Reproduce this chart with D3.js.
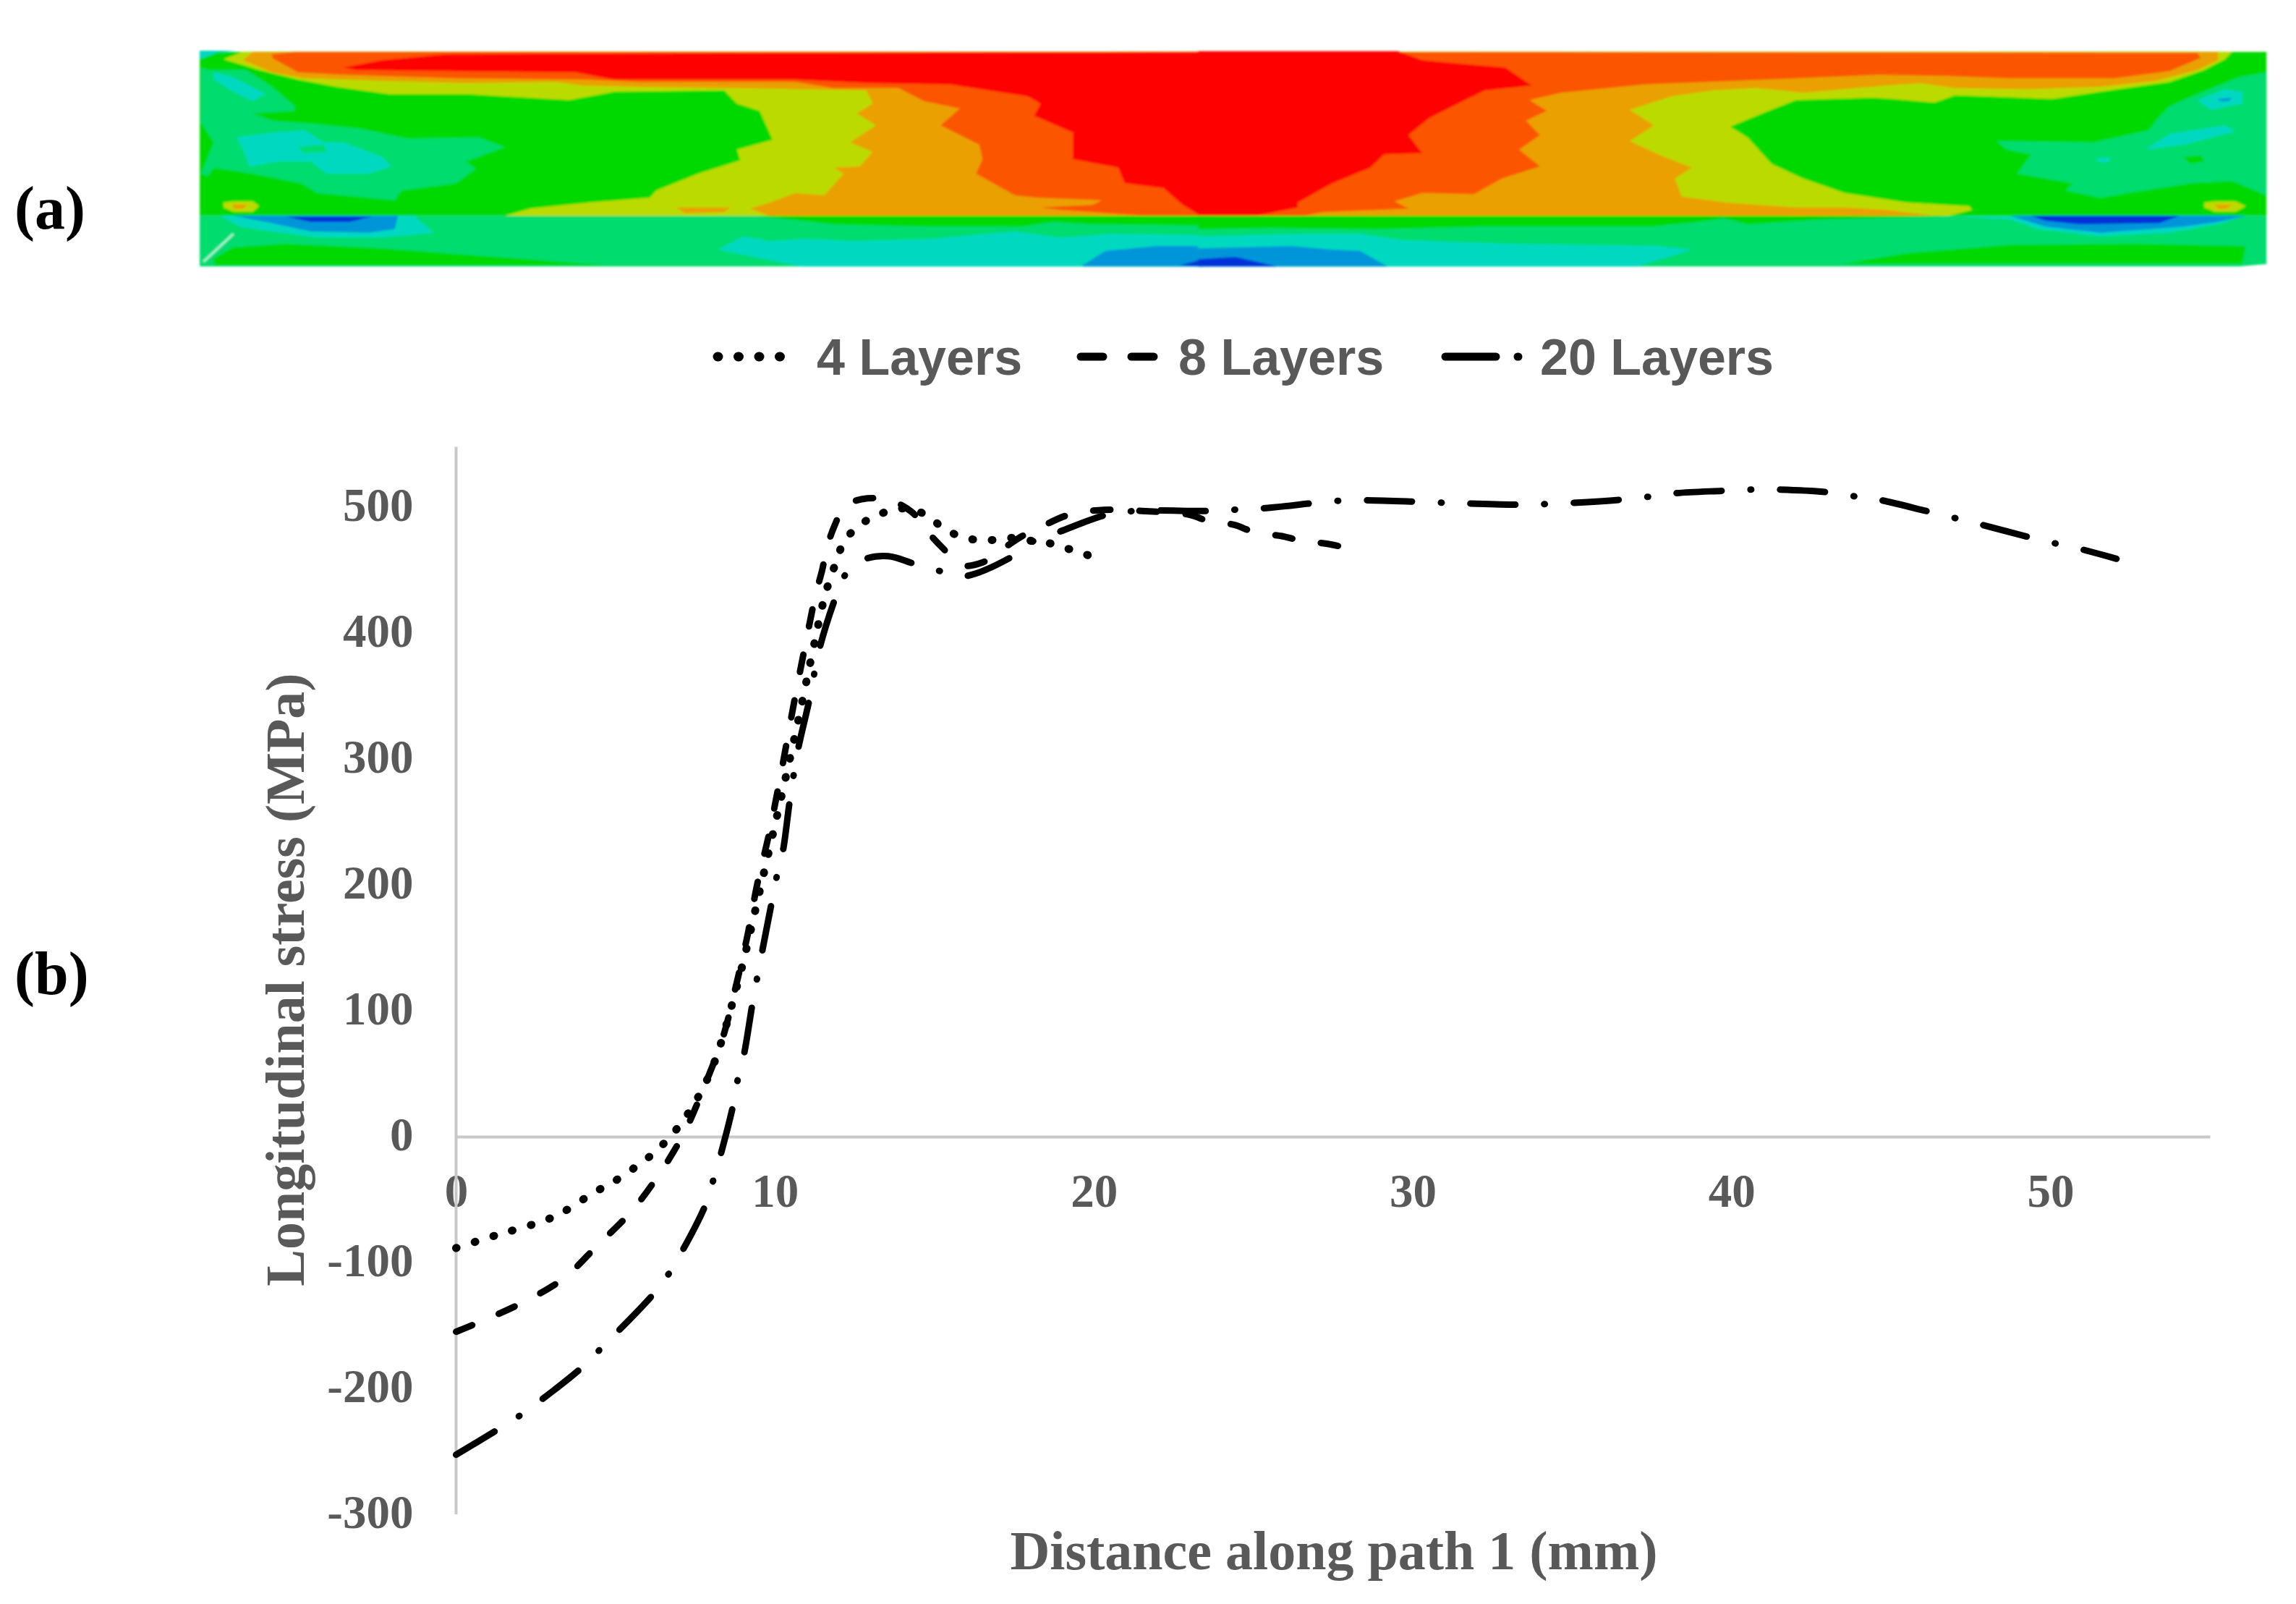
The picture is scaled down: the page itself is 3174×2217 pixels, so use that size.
<!DOCTYPE html>
<html>
<head>
<meta charset="utf-8">
<script src="https://cdn.jsdelivr.net/npm/d3@7"></script>
<style>
  body { margin: 0; background: #fff; }
  text { font-family: "Liberation Serif", serif; font-weight: bold; fill: #595959; }
</style>
</head>
<body>
<div id="container"></div>
<script>
// ---- line chart values (mm, MPa)
const xTicks = [0, 10, 20, 30, 40, 50];
const yTicks = [500, 400, 300, 200, 100, 0, -100, -200, -300];

const distance4 = [0, 1.08, 1.67, 2.79, 3.35, 4.35, 4.87, 5.85, 6.3, 7.1, 7.97, 8.84, 9.53, 10.2, 10.7, 11.18, 11.58, 11.94, 12.17, 12.58, 13.05, 13.6, 14.1, 14.73, 15.2, 15.73, 16.32, 16.9, 17.5, 18.1, 18.67, 19.25, 19.8, 20];
const stress4 = [-88.5, -79.7, -75.3, -66.5, -60, -44, -37, -20, -10.8, 12, 50.8, 122.6, 196, 270, 327, 385, 431, 458, 473, 484, 492, 497, 499, 494, 485, 477.5, 474, 474, 475.6, 473, 471, 466.5, 462, 460];

const distance8 = [0, 0.67, 2.03, 3.35, 4.45, 5.51, 6.42, 7.17, 7.77, 8.38, 8.76, 9.14, 9.44, 9.81, 10.2, 10.6, 10.97, 11.28, 11.48, 11.63, 11.88, 12.2, 12.9, 13.66, 14.3, 14.77, 15.28, 15.84, 16.5, 17.15, 17.75, 18.4, 19.1, 19.9, 20.6, 21.5, 22.98, 23.6, 24.4, 25.05, 25.9, 26.56, 27.3, 28.04];
const stress8 = [-155, -148, -132.5, -113, -86, -59, -28, 4, 39, 80, 118, 160, 200, 240, 290, 345, 393, 431, 450, 468, 486, 501, 507, 505, 496, 481, 467, 454, 456, 467, 477, 485, 493, 497, 498, 497, 494, 489, 486, 480, 477, 473, 471, 467];

const distance20 = [0, 1.35, 2.03, 3.92, 4.53, 6.19, 6.68, 7.81, 8.06, 8.3, 8.68, 8.83, 9.03, 9.29, 9.44, 9.59, 9.89, 10.05, 10.25, 10.46, 10.72, 11.07, 11.4, 11.88, 12.17, 12.75, 13.55, 14.37, 15.12, 15.9, 17.46, 18.1, 18.87, 20.4, 21.3, 23.6, 24.4, 25.26, 26.8, 27.6, 28.4, 30, 31, 31.66, 33.3, 34, 34.9, 36.55, 37.3, 38.2, 39.7, 40.6, 41.4, 42.96, 43.75, 44.6, 46.1, 46.9, 47.7, 49.25, 50.05, 50.9, 52.07];
const stress20 = [-252.7, -232, -221, -184, -168.6, -125, -108.5, -55, -35, -14, 24, 45, 65.5, 105, 126, 146, 185, 206, 227, 266, 307, 346, 388, 427, 445, 458, 461, 455, 449.6, 445, 461, 473, 480, 494, 497, 497, 498, 499, 503, 505, 505.5, 504.5, 503.5, 503, 502, 502.3, 503.3, 506, 508, 511, 513, 514, 514, 512, 509, 506, 497, 492, 487, 476.7, 471.8, 467, 459];

const legendLabels = ["4 Layers", "8 Layers", "20 Layers"];

// ---- contour field of panel (a), band outlines in two map sheets (left / right half)
const red = "#ff0000", orangeRed = "#fb5500", orange = "#eaa000", yellowGreen = "#bbdb00",
      green = "#00d900", seaGreen = "#00dc6e", cyan = "#00d9c0", lightBlue = "#0095d9", blue = "#0030d9";

const lUpperBase = [[18,65],[1572,65],[1572,745],[18,745]];
const lLowerBase = [[18,745],[1572,745],[1572,955],[18,955]];
const lCorner = [[18,60],[75,60],[45,68],[22,92],[18,92]];
const lSea = [[30,140],[90,140],[130,210],[165,290],[165,310],[100,320],[130,350],[200,365],[270,385],[340,425],[450,420],[490,460],[430,520],[445,550],[415,610],[330,640],[320,680],[200,650],[175,610],[100,570],[40,545],[30,580],[20,570],[40,440],[20,360],[20,130]];
const lCyanA = [[40,150],[70,170],[120,240],[100,270],[70,230],[40,180]];
const lCyanB = [[75,420],[130,400],[180,390],[210,440],[240,440],[300,500],[315,540],[280,570],[215,570],[190,520],[140,520],[95,540],[85,470]];
const lSeaHole = [[170,460],[210,450],[215,480],[180,485]];
const lYellow = [[55,95],[85,65],[1572,65],[1572,745],[490,745],[530,715],[620,690],[715,670],[725,640],[790,570],[855,515],[850,470],[905,430],[895,370],[885,310],[850,280],[830,225],[660,230],[590,265],[430,240],[310,240],[230,210],[170,180],[110,140]];
const lOrange = [[85,100],[100,65],[1572,65],[1572,745],[900,745],[870,715],[900,690],[940,650],[985,660],[1015,570],[1000,545],[1040,540],[1060,480],[1025,440],[1065,370],[1035,320],[1060,280],[1050,225],[830,215],[700,210],[610,205],[570,190],[430,195],[300,185],[180,175],[130,150]];
const lOrangeSpot = [[755,710],[840,710],[830,730],[770,735]];
const lOrangeRed = [[130,90],[130,75],[165,65],[1572,65],[1572,745],[1480,745],[1430,735],[1350,720],[1320,710],[1400,700],[1415,680],[1315,670],[1280,660],[1220,570],[1230,510],[1225,450],[1165,370],[1195,300],[1140,270],[1100,215],[1000,215],[940,190],[700,190],[620,180],[420,175],[240,160],[170,150]];
const lRed = [[240,130],[300,100],[400,75],[640,72],[1572,65],[1572,745],[1568,745],[1540,700],[1510,630],[1450,610],[1440,545],[1370,510],[1370,400],[1310,330],[1320,280],[1300,250],[1180,200],[1060,195],[940,180],[660,180],[600,150],[415,145],[260,140]];
const lGreenStrip = [[880,745],[1572,745],[1572,785],[1400,780],[1340,770],[1290,790],[1150,790],[1000,780]];
const lGreenLow = [[40,920],[70,875],[150,860],[300,880],[450,910],[650,950],[40,950]];
const lCyanLow = [[820,885],[860,830],[900,850],[960,840],[1030,850],[1150,840],[1280,810],[1350,835],[1430,820],[1572,825],[1572,955],[950,955]];
const lBlueLow = [[1385,950],[1420,890],[1500,870],[1572,870],[1572,955],[1385,955]];
const lDeepLow = [[1535,950],[1572,925],[1572,955]];
const lCyanPit = [[50,745],[350,745],[380,815],[300,835],[200,835],[130,810],[80,790]];
const lBluePit = [[70,745],[325,745],[320,800],[280,815],[190,810],[120,770]];
const lDeepPit = [[150,748],[285,748],[250,770],[190,770]];
const lSpot = [[55,690],[70,685],[100,685],[110,705],[100,728],[70,728],[55,710]];
const lSpotCore = [[68,698],[92,698],[85,716],[72,716]];

const rUpperBase = [[-4,65],[1540,65],[1540,745],[-4,745]];
const rLowerBase = [[-4,745],[1540,745],[1540,945],[1500,955],[-4,955]];
const rSea = [[1540,150],[1500,170],[1440,240],[1400,290],[1380,350],[1370,390],[1290,440],[1150,435],[1165,470],[1200,490],[1180,570],[1260,610],[1250,640],[1300,670],[1340,650],[1430,610],[1490,600],[1540,660]];
const rCyanA = [[1440,265],[1480,220],[1505,230],[1505,280],[1460,305]];
const rDeepA = [[1470,260],[1490,255],[1485,270],[1472,270]];
const rCyanB = [[1365,470],[1400,405],[1480,370],[1495,395],[1420,450]];
const rCyanC = [[1295,505],[1315,505],[1310,525],[1297,520]];
const rGreenPatch = [[1420,500],[1445,495],[1450,520],[1430,530]];
const rYellow = [[1490,65],[1480,95],[1450,140],[1400,190],[1300,230],[1230,260],[1090,245],[1060,275],[1000,260],[970,255],[860,265],[820,310],[765,375],[790,420],[825,530],[870,590],[930,650],[1020,690],[1110,705],[1115,720],[1080,745],[-4,745],[-4,65]];
const rOrange = [[1470,65],[1470,100],[1440,140],[1380,185],[1300,210],[1200,220],[1090,215],[1040,195],[990,205],[870,235],[840,225],[800,215],[740,225],[680,250],[620,305],[655,370],[620,435],[665,495],[710,545],[685,590],[695,665],[760,690],[860,710],[930,710],[990,720],[1060,745],[-4,745],[-4,65]];
const rOrangeRed = [[1440,70],[1445,90],[1400,145],[1320,175],[1170,175],[1080,165],[980,160],[860,175],[770,185],[640,200],[520,235],[475,265],[500,310],[470,350],[490,410],[460,470],[490,540],[435,590],[395,655],[320,650],[280,685],[300,715],[175,730],[150,745],[-4,745],[-4,65]];
const rRed = [[285,62],[320,100],[440,130],[478,205],[410,225],[330,340],[300,410],[320,485],[265,490],[245,545],[190,610],[140,690],[140,710],[80,745],[-4,745],[-4,62]];
const rGreenStrip = [[-4,745],[1100,745],[900,760],[790,780],[755,755],[720,770],[650,790],[400,790],[250,800],[100,795],[-4,800]];
const rCyanLow = [[-4,830],[150,820],[230,820],[290,845],[440,860],[660,870],[710,885],[630,955],[-4,955]];
const rBlueLow = [[-4,880],[130,870],[190,885],[230,890],[270,955],[-4,955]];
const rDeepLow = [[-4,925],[50,915],[110,955],[-4,955]];
const rGreenLow = [[925,945],[1020,900],[1170,865],[1350,860],[1510,870],[1505,945]];
const rCyanPit = [[1095,750],[1510,745],[1470,780],[1400,815],[1300,830],[1210,800],[1170,760]];
const rBluePit = [[1170,745],[1510,745],[1470,770],[1420,790],[1300,815],[1220,790]];
const rDeepPit = [[1200,745],[1415,745],[1385,775],[1270,780],[1220,765]];
const rSpot = [[1450,690],[1465,685],[1495,685],[1510,705],[1495,728],[1465,728],[1450,710]];
const rSpotCore = [[1465,698],[1490,698],[1482,716],[1470,716]];

const leftSheet = [
  [lUpperBase, green], [lLowerBase, seaGreen], [lCorner, cyan], [lSea, seaGreen], [lCyanA, cyan], [lCyanB, cyan], [lSeaHole, seaGreen],
  [lYellow, yellowGreen], [lOrangeSpot, orange], [lOrange, orange], [lOrangeRed, orangeRed], [lRed, red],
  [lGreenStrip, green], [lGreenLow, green], [lCyanLow, cyan], [lBlueLow, lightBlue], [lDeepLow, blue],
  [lCyanPit, cyan], [lBluePit, lightBlue], [lDeepPit, blue], [lSpot, yellowGreen], [lSpotCore, orange]
];
const rightSheet = [
  [rUpperBase, green], [rLowerBase, seaGreen], [rSea, seaGreen], [rCyanA, cyan], [rDeepA, lightBlue], [rCyanB, cyan], [rCyanC, cyan], [rGreenPatch, green],
  [rYellow, yellowGreen], [rOrange, orange], [rOrangeRed, orangeRed], [rRed, red],
  [rGreenStrip, green], [rCyanLow, cyan], [rBlueLow, lightBlue], [rDeepLow, blue], [rGreenLow, green],
  [rCyanPit, cyan], [rBluePit, lightBlue], [rDeepPit, blue], [rSpot, yellowGreen], [rSpotCore, orange]
];

// ---- drawing
const w = 3174;
const h = 2217;
const svg = d3.select("#container").append("svg")
              .attr("width", w).attr("height", h)
              .style("display", "block");

const defs = svg.append("defs");
defs.append("filter").attr("id", "soft")
    .append("feGaussianBlur").attr("stdDeviation", 1.6);

// panel (a)
const sheetY = d3.scaleLinear().domain([0, 1020]).range([50, 390]);
const leftX = d3.scaleLinear().domain([0, 1568]).range([260, 1660]);
const rightX = d3.scaleLinear().domain([0, 1568]).range([1660, 3160]);

const field = svg.append("g").attr("filter", "url(#soft)");
function drawSheet(sheet, sx) {
  const outline = d3.line().x(d => sx(d[0])).y(d => sheetY(d[1]));
  field.append("g").selectAll("path").data(sheet).enter().append("path")
       .attr("d", d => outline(d[0]) + "Z")
       .attr("fill", d => d[1]);
}
drawSheet(leftSheet, leftX);
drawSheet(rightSheet, rightX);
field.append("line")
     .attr("x1", leftX(70)).attr("y1", sheetY(820))
     .attr("x2", leftX(24)).attr("y2", sheetY(935))
     .attr("stroke", "#bff5ea").attr("stroke-width", 2.5);

// panel labels
svg.append("text").text("(a)").attr("x", 20).attr("y", 316)
   .style("font-size", "84px").style("fill", "#000");
svg.append("text").text("(b)").attr("x", 20).attr("y", 1374)
   .style("font-size", "84px").style("fill", "#000");

// panel (b)
const scaleX = d3.scaleLinear().domain([0, 55]).range([630.5, 3055]);
const scaleY = d3.scaleLinear().domain([-300, 500]).range([2093, 701]);
const topOfAxis = 548;

const xAxis = d3.axisBottom(scaleX).tickValues(xTicks).tickSize(0).tickPadding(58).tickFormat(d => String(d));
const yAxis = d3.axisLeft(scaleY).tickValues(yTicks).tickSize(0).tickPadding(59).tickFormat(d => String(d));

const xAxisGroup = svg.append("g")
   .attr("transform", "translate(0, " + scaleY(0) + ")")
   .call(xAxis);
const yAxisGroup = svg.append("g")
   .attr("transform", "translate(" + scaleX(0) + ", 0)")
   .call(yAxis);
yAxisGroup.select(".domain").attr("d", "M0," + scaleY(topOfAxis) + "V" + scaleY(-300));

[xAxisGroup, yAxisGroup].forEach(g => {
  g.select(".domain").attr("stroke", "#c8c8c8").attr("stroke-width", 4);
  g.selectAll("text").style("font-size", "65px").attr("dy", "0.28em");
});
xAxisGroup.selectAll("text").attr("dy", "0.6em");

svg.append("text").text("Distance along path 1 (mm)")
   .attr("x", 1844).attr("y", 2146).attr("dy", "0.3em")
   .attr("text-anchor", "middle").style("font-size", "76px");
svg.append("text").text("Longitudinal stress (MPa)")
   .attr("transform", "translate(397, 1354) rotate(-90)").attr("dy", "0.3em")
   .attr("text-anchor", "middle").style("font-size", "76px");

const series = [
  { xs: distance4, ys: stress4, width: 11, dash: "1 26", keyDash: "1 27.5", key: [992, 1106] },
  { xs: distance8, ys: stress8, width: 9, dash: "24 40", keyDash: "31 39", key: [1494, 1596] },
  { xs: distance20, ys: stress20, width: 9, dash: "62 40 1 40", keyDash: "70 30 1 30", key: [1998, 2103] }
];

const line = d3.line()
  .x(d => scaleX(d[0]))
  .y(d => scaleY(d[1]))
  .curve(d3.curveCatmullRom.alpha(0.5));

svg.append("g").selectAll("path").data(series).enter().append("path")
   .attr("d", d => line(d3.zip(d.xs, d.ys)))
   .attr("fill", "none")
   .attr("stroke", "#000")
   .attr("stroke-width", d => d.width)
   .attr("stroke-linecap", "round")
   .attr("stroke-dasharray", d => d.dash);

// legend
const legendY = 493;
const legendTextX = [1129, 1629, 2129];
const legend = svg.append("g");
legend.selectAll("line").data(series).enter().append("line")
   .attr("x1", d => d.key[0]).attr("x2", d => d.key[1])
   .attr("y1", legendY).attr("y2", legendY)
   .attr("stroke", "#000").attr("stroke-width", d => d.width + 2)
   .attr("stroke-linecap", "round")
   .attr("stroke-dasharray", d => d.keyDash);
legend.selectAll("text").data(legendLabels).enter().append("text")
   .text(d => d)
   .attr("x", (d, i) => legendTextX[i])
   .attr("y", legendY).attr("dy", "0.35em")
   .style("font-family", "'Liberation Sans', sans-serif")
   .style("font-size", "70px");
</script>
</body>
</html>
